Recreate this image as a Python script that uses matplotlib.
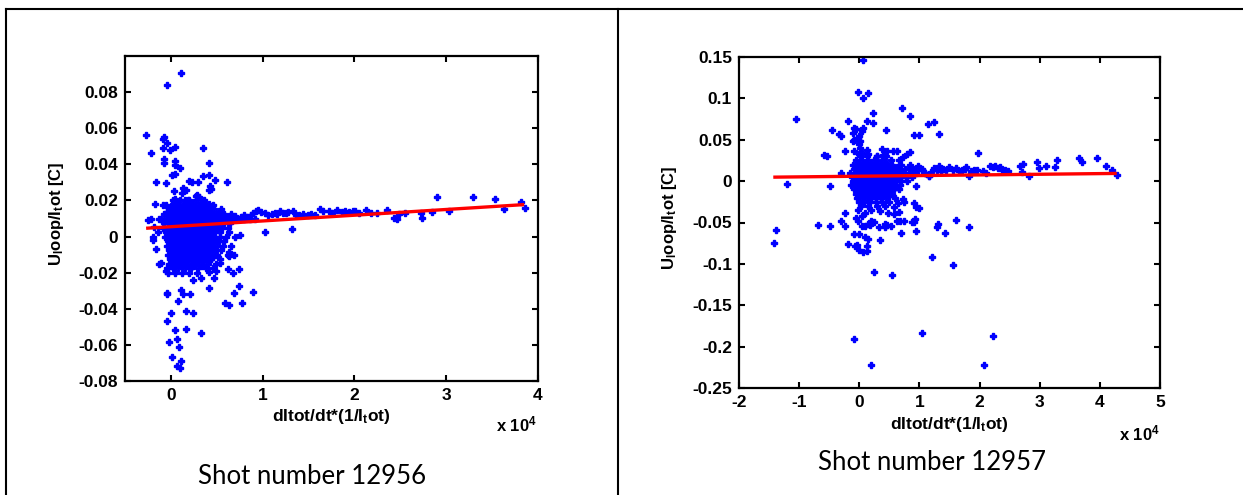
import matplotlib
matplotlib.use("Agg")
import matplotlib.pyplot as plt
from matplotlib.lines import Line2D

plt.rcParams['font.family'] = ['Liberation Sans', 'DejaVu Sans']
plt.rcParams['font.weight'] = 'bold'
plt.rcParams['mathtext.fontset'] = 'custom'
plt.rcParams['mathtext.rm'] = 'Liberation Sans:bold'
plt.rcParams['mathtext.it'] = 'Liberation Sans:bold'
plt.rcParams['mathtext.bf'] = 'Liberation Sans:bold'

# ---------------- data (x in units of 1e4) ----------------
left_xticks = [0, 1, 2, 3, 4]
left_xticklabels = ['0', '1', '2', '3', '4']
left_yticks = [-0.08, -0.06, -0.04, -0.02, 0, 0.02, 0.04, 0.06, 0.08]
left_yticklabels = ['-0.08', '-0.06', '-0.04', '-0.02', '0', '0.02', '0.04', '0.06', '0.08']

right_xticks = [-2, -1, 0, 1, 2, 3, 4, 5]
right_xticklabels = ['-2', '-1', '0', '1', '2', '3', '4', '5']
right_yticks = [-0.25, -0.2, -0.15, -0.1, -0.05, 0, 0.05, 0.1, 0.15]
right_yticklabels = ['-0.25', '-0.2', '-0.15', '-0.1', '-0.05', '0', '0.05', '0.1', '0.15']

# dense core of shot 12956: rows of (y, x-values)
left_core_rows = [
    (0.0200, [0.02, 0.10, 0.19, 0.27, 0.36]),
    (0.0188, [0.06, 0.15, 0.24, 0.33]),
    (0.0175, [-0.05, 0.03, 0.08, 0.14, 0.22, 0.30, 0.38, 0.46]),
    (0.0162, [0.00, 0.06, 0.12, 0.18, 0.25, 0.35, 0.43]),
    (0.0150, [-0.02, 0.04, 0.09, 0.15, 0.21, 0.26, 0.33, 0.40, 0.47, 0.55]),
    (0.0138, [-0.04, 0.02, 0.07, 0.11, 0.16, 0.21, 0.30, 0.36, 0.43, 0.52]),
    (0.0125, [-0.08, -0.01, 0.04, 0.08, 0.13, 0.18, 0.23, 0.28, 0.33, 0.38, 0.44, 0.50, 0.58, 0.66]),
    (0.0112, [-0.02, 0.03, 0.07, 0.11, 0.16, 0.21, 0.26, 0.31, 0.36, 0.41, 0.47, 0.53]),
    (0.0100, [-0.11, -0.04, 0.01, 0.05, 0.10, 0.15, 0.19, 0.24, 0.29, 0.34, 0.39, 0.44, 0.49, 0.55, 0.61, 0.68, 0.74, 0.80, 0.86, 0.92]),
    (0.0088, [-0.05, 0.00, 0.05, 0.09, 0.14, 0.19, 0.23, 0.28, 0.33, 0.38, 0.43, 0.49]),
    (0.0075, [-0.07, -0.02, 0.03, 0.07, 0.12, 0.17, 0.21, 0.26, 0.31, 0.36, 0.41, 0.46, 0.52, 0.58, 0.64]),
    (0.0062, [-0.01, 0.04, 0.09, 0.13, 0.18, 0.23, 0.28, 0.32, 0.37, 0.42, 0.48]),
    (0.0050, [-0.09, -0.03, 0.02, 0.06, 0.11, 0.15, 0.20, 0.25, 0.30, 0.35, 0.40, 0.45, 0.50, 0.56, 0.62]),
    (0.0038, [-0.02, 0.03, 0.07, 0.12, 0.16, 0.21, 0.26, 0.31, 0.36, 0.41, 0.46, 0.52]),
    (0.0025, [-0.05, 0.00, 0.05, 0.09, 0.14, 0.18, 0.23, 0.28, 0.33, 0.38, 0.43, 0.48, 0.54, 0.63]),
    (0.0012, [-0.03, 0.02, 0.07, 0.11, 0.15, 0.20, 0.25, 0.30, 0.35, 0.40, 0.45]),
    (0.0000, [-0.06, -0.01, 0.04, 0.08, 0.13, 0.17, 0.22, 0.27, 0.32, 0.37, 0.42, 0.47, 0.53, 0.60, 0.70]),
    (-0.0012, [0.01, 0.06, 0.10, 0.15, 0.19, 0.24, 0.29, 0.34, 0.39, 0.44, 0.50]),
    (-0.0025, [-0.03, 0.02, 0.06, 0.11, 0.16, 0.20, 0.25, 0.30, 0.35, 0.40, 0.46, 0.52, 0.58]),
    (-0.0038, [-0.01, 0.04, 0.08, 0.13, 0.17, 0.22, 0.27, 0.32, 0.37, 0.42, 0.47]),
    (-0.0050, [-0.04, 0.01, 0.05, 0.10, 0.14, 0.19, 0.24, 0.29, 0.34, 0.39, 0.44, 0.50, 0.57, 0.66]),
    (-0.0062, [0.00, 0.03, 0.08, 0.12, 0.17, 0.22, 0.26, 0.31, 0.36, 0.41, 0.46]),
    (-0.0075, [-0.02, 0.03, 0.07, 0.12, 0.17, 0.22, 0.27, 0.32, 0.37, 0.42, 0.48, 0.55]),
    (-0.0088, [0.00, 0.05, 0.09, 0.14, 0.19, 0.24, 0.29, 0.34, 0.39, 0.45]),
    (-0.0100, [-0.03, 0.01, 0.06, 0.11, 0.15, 0.20, 0.25, 0.31, 0.36, 0.42, 0.50, 0.62]),
    (-0.0112, [0.02, 0.07, 0.12, 0.17, 0.22, 0.27, 0.33, 0.39, 0.46]),
    (-0.0125, [-0.01, 0.04, 0.09, 0.14, 0.19, 0.24, 0.30, 0.37, 0.44, 0.53]),
    (-0.0138, [0.01, 0.06, 0.11, 0.16, 0.22, 0.28, 0.35, 0.42]),
    (-0.0150, [-0.02, 0.03, 0.08, 0.13, 0.19, 0.26, 0.33, 0.40, 0.49]),
    (-0.0162, [0.00, 0.05, 0.11, 0.17, 0.24, 0.34]),
    (-0.0175, [-0.04, 0.02, 0.08, 0.15, 0.22, 0.30, 0.38, 0.46]),
    (-0.0200, [-0.03, 0.05, 0.12, 0.20, 0.28]),
]

left_band_pts = [
    (0.50, 0.0125), (0.55, 0.0110), (0.58, 0.0116), (0.62, 0.0108), (0.65, 0.0106), (0.70, 0.0112),
    (0.72, 0.0098), (0.76, 0.0106), (0.80, 0.0118), (0.83, 0.0110), (0.87, 0.0122), (0.90, 0.0132),
    (0.93, 0.0142), (0.95, 0.0149), (0.98, 0.0135), (1.02, 0.0128), (1.06, 0.0120), (1.10, 0.0124),
    (1.13, 0.0130), (1.16, 0.0125), (1.19, 0.0140), (1.22, 0.0132), (1.25, 0.0129), (1.28, 0.0136),
    (1.33, 0.0140), (1.36, 0.0122), (1.40, 0.0118), (1.44, 0.0126), (1.49, 0.0121), (1.53, 0.0126),
    (1.57, 0.0122), (1.62, 0.0154), (1.66, 0.0144), (1.72, 0.0140), (1.76, 0.0132), (1.81, 0.0145),
    (1.86, 0.0138), (1.90, 0.0142), (1.94, 0.0135), (1.98, 0.0140), (2.01, 0.0140), (2.05, 0.0130),
    (2.13, 0.0149), (2.18, 0.0128), (2.25, 0.0132), (2.35, 0.0147), (2.43, 0.0105), (2.46, 0.0097),
    (2.49, 0.0123), (2.55, 0.0128), (2.72, 0.0130), (2.74, 0.0105), (2.84, 0.0136), (2.90, 0.0219),
    (3.03, 0.0142), (3.29, 0.0219), (3.53, 0.0206), (3.63, 0.0153), (3.82, 0.0191), (3.86, 0.0158),
]

left_outlier_pts = [
    (0.11, 0.0905), (-0.04, 0.084), (-0.27, 0.056), (-0.22, 0.0465), (-0.09, 0.054), (-0.07, 0.055),
    (-0.04, 0.052), (-0.09, 0.049), (-0.01, 0.048), (0.04, 0.0495), (0.355, 0.049), (-0.07, 0.043),
    (-0.07, 0.0407), (0.04, 0.0418), (0.05, 0.0396), (0.10, 0.038), (0.42, 0.041), (0.01, 0.034),
    (0.04, 0.0346), (0.355, 0.0335), (0.42, 0.034), (-0.16, 0.030), (-0.05, 0.0294), (0.48, 0.0315),
    (0.61, 0.0303), (0.03, 0.0254), (0.13, 0.027), (0.16, 0.026), (0.20, 0.031), (0.23, 0.030),
    (0.30, 0.030), (0.12, 0.024), (0.28, 0.023), (0.31, 0.022), (0.27, 0.0225), (0.41, 0.026),
    (0.44, 0.0266), (0.43, 0.028), (-0.17, 0.018), (-0.09, 0.0173), (0.02, 0.018), (0.04, 0.021),
    (0.03, 0.019), (0.15, 0.020), (0.20, 0.0205), (0.35, 0.018), (0.42, 0.018), (-0.22, 0.0095),
    (-0.13, 0.010), (-0.20, -0.0004), (-0.19, -0.0017), (-0.16, -0.0068), (-0.11, -0.0149),
    (-0.05, -0.019), (-0.04, -0.0313), (-0.04, -0.032), (0.11, -0.0296), (0.13, -0.032),
    (0.21, -0.0317), (0.08, -0.0355), (0.00, -0.0425), (-0.04, -0.0467), (0.17, -0.0414),
    (0.24, -0.0421), (0.17, -0.051), (0.04, -0.0515), (0.33, -0.0535), (0.07, -0.0565),
    (-0.02, -0.0585), (0.09, -0.0614), (0.015, -0.0666), (0.11, -0.0688), (0.07, -0.0715),
    (0.10, -0.0728), (0.42, -0.0283), (0.59, -0.0366), (0.63, -0.038), (0.685, -0.031),
    (0.74, -0.0272), (0.78, -0.037), (0.89, -0.0305), (0.62, -0.0182), (0.68, -0.0204),
    (0.74, -0.0178), (0.47, -0.023), (0.24, -0.0238), (0.33, -0.023), (0.42, -0.0197),
    (0.75, 0.001), (0.63, -0.0087), (0.63, -0.0105), (0.69, -0.010), (0.53, -0.0147),
    (0.49, -0.019), (1.03, 0.0024), (1.32, 0.0044), (-0.25, 0.009), (-0.18, 0.0055),
    (-0.14, 0.0025), (-0.13, -0.015),
]

left_fit_x = [-0.27, 3.85]
left_fit_y = [0.0046, 0.0177]

# dense core of shot 12957: rows of (y, x-values)
right_core_rows = [
    (0.030, [0.02, 0.12, 0.30, 0.45]),
    (0.025, [-0.05, 0.05, 0.14, 0.24, 0.38, 0.52, 0.66]),
    (0.0225, [0.00, 0.09, 0.19, 0.31, 0.45]),
    (0.020, [-0.10, -0.02, 0.06, 0.13, 0.20, 0.28, 0.36, 0.45, 0.55, 0.70, 0.85]),
    (0.0175, [-0.04, 0.03, 0.10, 0.17, 0.24, 0.32, 0.40, 0.50, 0.62]),
    (0.015, [-0.08, 0.00, 0.07, 0.14, 0.21, 0.28, 0.35, 0.42, 0.49, 0.57, 0.66, 0.76, 0.90, 1.05]),
    (0.0125, [-0.02, 0.05, 0.12, 0.19, 0.26, 0.33, 0.40, 0.47, 0.54, 0.62, 0.71]),
    (0.010, [-0.15, -0.05, 0.02, 0.09, 0.16, 0.23, 0.30, 0.37, 0.44, 0.51, 0.58, 0.66, 0.74, 0.83, 0.95, 1.10]),
    (0.0075, [-0.08, 0.00, 0.06, 0.13, 0.20, 0.27, 0.34, 0.41, 0.48, 0.56, 0.64, 0.72]),
    (0.005, [-0.12, -0.04, 0.03, 0.10, 0.17, 0.24, 0.31, 0.38, 0.45, 0.52, 0.60, 0.68, 0.77, 0.88]),
    (0.0025, [-0.07, 0.00, 0.07, 0.14, 0.21, 0.28, 0.35, 0.42, 0.49, 0.57, 0.65]),
    (0.000, [-0.10, -0.03, 0.04, 0.11, 0.18, 0.25, 0.32, 0.39, 0.46, 0.53, 0.61, 0.70, 0.80]),
    (-0.0025, [-0.06, 0.01, 0.08, 0.15, 0.22, 0.29, 0.36, 0.43, 0.50, 0.57]),
    (-0.005, [-0.14, -0.05, 0.02, 0.09, 0.16, 0.23, 0.30, 0.37, 0.44, 0.51, 0.59, 0.68]),
    (-0.0075, [-0.04, 0.04, 0.11, 0.18, 0.25, 0.32, 0.39, 0.46, 0.54, 0.62]),
    (-0.010, [-0.08, 0.00, 0.07, 0.14, 0.21, 0.28, 0.35, 0.42, 0.50, 0.58, 0.66]),
    (-0.0125, [-0.03, 0.05, 0.12, 0.19, 0.26, 0.34, 0.42, 0.50]),
    (-0.015, [-0.06, 0.02, 0.09, 0.16, 0.23, 0.30, 0.38, 0.46, 0.55]),
    (-0.0175, [0.00, 0.08, 0.16, 0.24, 0.32, 0.40, 0.50]),
    (-0.020, [-0.03, 0.05, 0.12, 0.20, 0.28, 0.36, 0.45, 0.60]),
    (-0.025, [0.00, 0.08, 0.17, 0.27, 0.38, 0.50]),
    (-0.030, [0.03, 0.15, 0.30, 0.42]),
]

right_band_pts = [
    (0.85, 0.016), (0.92, 0.012), (0.98, 0.018), (1.05, 0.014), (1.10, 0.010), (1.16, 0.006),
    (1.20, 0.011), (1.25, 0.016), (1.30, 0.013), (1.33, 0.018), (1.36, 0.012), (1.40, 0.015),
    (1.45, 0.013), (1.50, 0.017), (1.55, 0.014), (1.60, 0.016), (1.65, 0.012), (1.70, 0.013),
    (1.75, 0.015), (1.78, 0.017), (1.83, 0.006), (1.86, 0.012), (1.90, 0.014), (1.95, 0.013),
    (1.98, 0.0335), (2.05, 0.012), (2.10, 0.010), (2.17, 0.018), (2.22, 0.017), (2.26, 0.018),
    (2.30, 0.016), (2.34, 0.017), (2.38, 0.014), (2.42, 0.013), (2.47, 0.012), (2.67, 0.018),
    (2.72, 0.021), (2.71, 0.0108), (2.82, 0.0064), (2.96, 0.0226), (2.99, 0.0157), (3.11, 0.018),
    (3.25, 0.0165), (3.28, 0.026), (3.65, 0.0274), (3.70, 0.0226), (3.95, 0.0274), (4.10, 0.0178),
    (4.20, 0.013), (4.28, 0.008),
]

right_outlier_pts = [
    (0.055, 0.146), (-0.02, 0.108), (0.14, 0.107), (0.055, 0.101), (-1.06, 0.0745), (0.715, 0.0878),
    (0.85, 0.0786), (0.22, 0.0818), (-0.46, 0.0616), (-0.18, 0.0725), (0.12, 0.0725), (0.22, 0.070),
    (0.45, 0.0616), (1.15, 0.0685), (1.25, 0.071), (1.32, 0.0568), (0.91, 0.0552), (0.99, 0.0552),
    (-0.34, 0.057), (-0.30, 0.0548), (-0.09, 0.064), (-0.05, 0.063), (-0.10, 0.058), (0.06, 0.064),
    (0.04, 0.060), (0.00, 0.054), (-0.02, 0.052), (0.02, 0.048), (-0.08, 0.050), (-0.10, 0.048),
    (0.00, 0.045), (0.02, 0.040), (-0.59, 0.031), (-0.53, 0.030), (-0.23, 0.037), (-0.09, 0.036),
    (0.00, 0.033), (0.05, 0.034), (0.12, 0.0375), (0.15, 0.033), (0.30, 0.030), (0.38, 0.039),
    (0.46, 0.036), (0.40, 0.032), (0.56, 0.036), (0.63, 0.036), (0.72, 0.029), (0.80, 0.033),
    (0.84, 0.035), (-0.30, 0.010), (-1.21, -0.003), (-0.48, -0.0064), (-0.23, -0.038),
    (-0.68, -0.0536), (-0.48, -0.054), (-0.31, -0.0487), (-0.24, -0.054), (-0.02, -0.048),
    (0.10, -0.054), (0.18, -0.053), (0.25, -0.049), (0.35, -0.036), (0.47, -0.038), (0.58, -0.040),
    (0.66, -0.037), (0.74, -0.048), (0.63, -0.048), (0.46, -0.053), (0.58, -0.031), (0.65, -0.027),
    (0.73, -0.022), (0.75, -0.025), (0.91, -0.026), (0.94, -0.031), (1.00, -0.033), (0.93, -0.046),
    (0.91, -0.049), (1.31, -0.052), (0.94, -0.006), (1.16, 0.006), (-1.42, -0.0753),
    (-1.39, -0.0596), (-0.09, -0.0645), (-0.01, -0.0645), (-0.18, -0.0765), (-0.07, -0.079),
    (-0.03, -0.077), (0.00, -0.0838), (0.07, -0.086), (0.12, -0.085), (0.12, -0.0785),
    (0.10, -0.068), (0.14, -0.070), (0.14, -0.052), (0.04, -0.054), (0.20, -0.048),
    (0.32, -0.0556), (0.34, -0.0716), (0.42, -0.052), (0.42, -0.055), (0.53, -0.054),
    (0.68, -0.048), (0.69, -0.0628), (0.88, -0.049), (0.94, -0.0601), (1.30, -0.0552),
    (1.43, -0.0628), (1.21, -0.092), (0.25, -0.110), (0.54, -0.113), (-0.09, -0.191),
    (0.20, -0.2227), (1.05, -0.184), (1.55, -0.101), (1.60, -0.0475), (1.83, -0.056),
    (2.08, -0.2228), (2.22, -0.187), (-0.02, -0.035), (0.05, -0.042), (-0.05, -0.045),
    (0.10, -0.038), (0.20, -0.035),
]

right_fit_x = [-1.43, 4.28]
right_fit_y = [0.0048, 0.0093]

captions = ['Shot number 12956', 'Shot number 12957']
ylabel_text = r'U$_{l}$oop/I$_{t}$ot [C]'
xlabel_text = r'dItot/dt*(1/I$_{t}$ot)'
xscale_text = r'x 10$^{4}$'


def expand(rows):
    xs, ys = [], []
    for y, xlist in rows:
        for x in xlist:
            xs.append(x)
            ys.append(y)
    return xs, ys


W, H = 1243, 495
fig = plt.figure(figsize=(W / 100, H / 100), dpi=100)


def fx(px):
    return px / W


def fy(py):
    return 1 - py / H


MS = 4.6


def make_panel(box, core_rows, band, outliers, fit_x, fit_y, xlim, ylim,
               xt, xtl, yt, ytl, xlab_y, scale_xy, ylab_x):
    x0, y0, x1, y1 = box
    ax = fig.add_axes([fx(x0), fy(y1), fx(x1) - fx(x0), fy(y0) - fy(y1)])
    cx, cy = expand(core_rows)
    bx = [p[0] for p in band]
    by = [p[1] for p in band]
    ox = [p[0] for p in outliers]
    oy = [p[1] for p in outliers]
    for xs, ys in ((cx, cy), (bx, by), (ox, oy)):
        ax.plot(xs, ys, linestyle='none', marker='P', markersize=MS, color='#0000ff',
                markeredgecolor='#0000ff', markeredgewidth=1.0, zorder=2)
    ax.plot(fit_x, fit_y, color='#ff0000', linewidth=2.4, solid_capstyle='butt', zorder=3)
    ax.set_xlim(*xlim)
    ax.set_ylim(*ylim)
    ax.set_xticks(xt)
    ax.set_xticklabels(xtl)
    ax.set_yticks(yt)
    ax.set_yticklabels(ytl)
    ax.tick_params(direction='in', length=4, width=1.5, top=True, right=True,
                   labelsize=12.5, pad=5)
    for lab in ax.get_xticklabels() + ax.get_yticklabels():
        lab.set_fontweight('bold')
    for s in ax.spines.values():
        s.set_linewidth(1.6)
    xc = (x0 + x1) / 2
    fig.text(fx(xc), fy(xlab_y), xlabel_text, ha='center', va='center',
             fontsize=12.5, fontweight='bold')
    fig.text(fx(scale_xy[0]), fy(scale_xy[1]), xscale_text, ha='right', va='center',
             fontsize=12, fontweight='bold')
    fig.text(fx(ylab_x), fy((y0 + y1) / 2 - 5), ylabel_text, ha='center', va='center',
             rotation=90, fontsize=12, fontweight='bold')
    return ax


make_panel((125, 56, 538, 381), left_core_rows, left_band_pts, left_outlier_pts,
           left_fit_x, left_fit_y, (-0.5, 4), (-0.08, 0.1),
           left_xticks, left_xticklabels, left_yticks, left_yticklabels,
           416, (537, 424), 57)

make_panel((739, 57, 1160, 388), right_core_rows, right_band_pts, right_outlier_pts,
           right_fit_x, right_fit_y, (-2, 5), (-0.25, 0.15),
           right_xticks, right_xticklabels, right_yticks, right_yticklabels,
           425, (1160, 433), 670)

# captions
fig.text(fx(312), fy(476), captions[0], ha='center', va='center', fontsize=18.5,
         fontweight='normal', family=['Lato', 'DejaVu Sans'])
fig.text(fx(932), fy(463), captions[1], ha='center', va='center', fontsize=18.5,
         fontweight='normal', family=['Lato', 'DejaVu Sans'])

# table borders
lw = 1.5
fig.add_artist(Line2D([fx(6), 1], [fy(9), fy(9)], color='black', linewidth=lw,
                      transform=fig.transFigure))
fig.add_artist(Line2D([fx(6), fx(6)], [fy(9), 0], color='black', linewidth=lw,
                      transform=fig.transFigure))
fig.add_artist(Line2D([fx(618), fx(618)], [fy(9), 0], color='black', linewidth=lw,
                      transform=fig.transFigure))

fig.savefig('out.png', dpi=100)
